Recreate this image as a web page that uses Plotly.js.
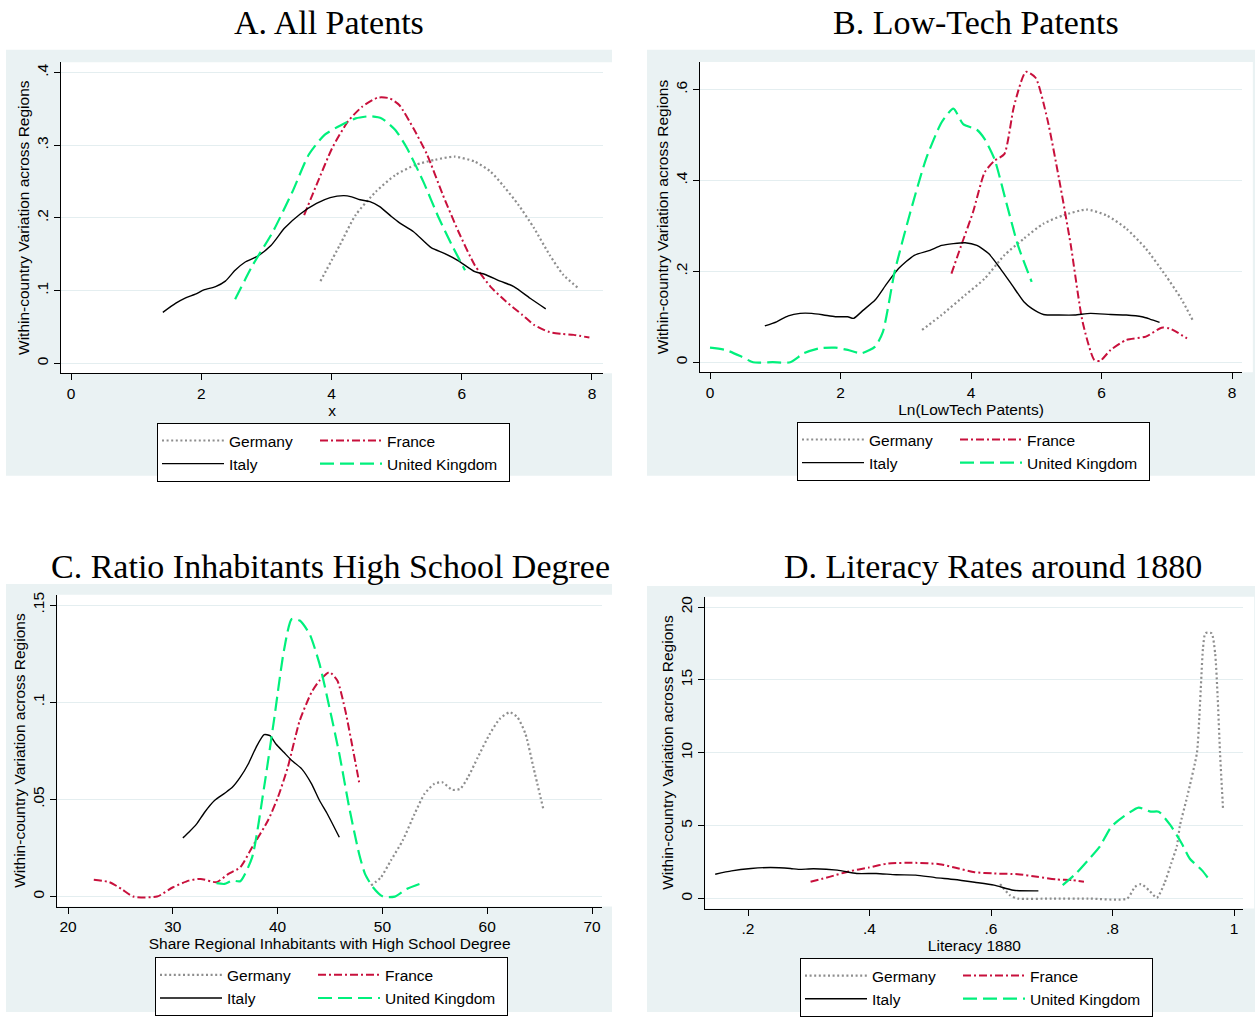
<!DOCTYPE html>
<html><head><meta charset="utf-8">
<script src="https://cdn.plot.ly/plotly-3.0.1.min.js"></script>
<style>html,body{margin:0;padding:0;background:#fff}</style>
</head><body><div id="chart" style="width:1255px;height:1017px"></div>
<script>
// ---------- Panel A: All Patents ----------
const A_germany_x = [3.83,4.13,4.37,4.68,4.98,5.29,5.59,5.89,6.20,6.44,6.65,6.87,7.11,7.35,7.56,7.78];
const A_germany_y = [0.113,0.163,0.204,0.236,0.259,0.273,0.280,0.2844,0.2775,0.264,0.243,0.218,0.186,0.149,0.1216,0.104];
const A_france_x = [3.58,3.77,4.01,4.25,4.47,4.71,4.89,5.04,5.26,5.47,5.71,5.95,6.20,6.44,6.68,6.93,7.11,7.35,7.53,7.72,7.96];
const A_france_y = [0.204,0.2455,0.296,0.3326,0.353,0.3656,0.3647,0.3555,0.323,0.2867,0.2317,0.181,0.135,0.1055,0.0849,0.0665,0.0528,0.0427,0.0404,0.039,0.0353];
const A_italy_x = [1.41,1.61,1.76,1.91,2.04,2.22,2.37,2.52,2.67,2.86,3.07,3.28,3.52,3.77,3.98,4.19,4.31,4.44,4.59,4.74,4.92,5.04,5.26,5.53,5.74,5.95,6.20,6.35,6.59,6.80,7.05,7.29];
const A_italy_y = [0.070,0.0826,0.090,0.095,0.101,0.1055,0.113,0.128,0.139,0.147,0.162,0.186,0.2055,0.220,0.228,0.2307,0.229,0.225,0.2225,0.2156,0.202,0.1936,0.181,0.159,0.151,0.141,0.126,0.1225,0.113,0.1055,0.0894,0.0748];
const A_uk_x = [2.52,2.79,3.10,3.40,3.65,3.89,4.13,4.37,4.59,4.77,4.98,5.16,5.41,5.65,5.86,6.05];
const A_uk_y = [0.088,0.135,0.181,0.236,0.287,0.314,0.327,0.337,0.340,0.337,0.321,0.296,0.250,0.1995,0.1606,0.128];
const A_xticks = [0,2,4,6,8];
const A_xtext = ['0','2','4','6','8'];
const A_yticks = [0,0.1,0.2,0.3,0.4];
const A_ytext = ['0','.1','.2','.3','.4'];

// ---------- Panel B: Low-Tech Patents ----------
const B_germany_x = [3.25,3.55,3.91,4.21,4.51,4.81,5.11,5.41,5.77,6.08,6.38,6.68,6.98,7.22,7.41];
const B_germany_y = [0.071,0.104,0.1476,0.184,0.2353,0.272,0.305,0.323,0.336,0.323,0.294,0.250,0.1915,0.140,0.089];
const B_france_x = [3.70,3.85,4.03,4.21,4.36,4.51,4.66,4.84,4.99,5.17,5.35,5.53,5.71,5.89,5.98,6.14,6.38,6.68,6.92,7.04,7.31];
const B_france_y = [0.195,0.257,0.330,0.418,0.4436,0.458,0.564,0.639,0.626,0.535,0.403,0.257,0.089,0.005,0.003,0.027,0.049,0.0563,0.076,0.0745,0.0526];
const B_italy_x = [0.84,1.02,1.20,1.38,1.56,1.74,1.92,2.11,2.20,2.35,2.53,2.71,2.89,3.13,3.37,3.55,3.73,3.91,4.09,4.27,4.45,4.63,4.81,4.93,5.11,5.35,5.59,5.83,6.14,6.38,6.62,6.74,6.89];
const B_italy_y = [0.080,0.089,0.102,0.1074,0.1074,0.104,0.100,0.100,0.0965,0.1147,0.1367,0.173,0.206,0.2353,0.2463,0.257,0.261,0.263,0.257,0.239,0.206,0.1696,0.133,0.1184,0.105,0.1038,0.1038,0.1074,0.105,0.1038,0.100,0.095,0.0877];
const B_uk_x = [0.00,0.24,0.48,0.66,0.96,1.23,1.44,1.68,1.92,2.11,2.32,2.53,2.65,2.83,3.07,3.31,3.55,3.73,3.88,4.09,4.21,4.36,4.54,4.72,4.93];
const B_uk_y = [0.032,0.027,0.0124,0.0,0.0,0.0,0.0197,0.0307,0.032,0.027,0.0197,0.0343,0.067,0.199,0.330,0.447,0.528,0.558,0.524,0.5116,0.491,0.447,0.352,0.257,0.1769];
const B_xticks = [0,2,4,6,8];
const B_xtext = ['0','2','4','6','8'];
const B_yticks = [0,0.2,0.4,0.6];
const B_ytext = ['0','.2','.4','.6'];

// ---------- Panel C: Ratio Inhabitants High School Degree ----------
const C_germany_x = [48.91,49.86,50.80,51.93,53.07,54.01,54.96,55.71,56.66,57.41,58.17,59.11,60.25,61.19,62.14,62.89,63.65,64.41,65.35];
const C_germany_y = [0.0057,0.0099,0.0185,0.0288,0.0425,0.0528,0.058,0.0588,0.0549,0.0554,0.0614,0.0717,0.0837,0.0914,0.0948,0.0922,0.0837,0.0665,0.0451];
const C_france_x = [22.46,23.97,25.10,26.24,28.50,30.02,31.53,32.66,34.17,35.31,36.44,37.57,39.08,40.03,40.97,42.11,43.24,44.00,44.94,45.70,46.46,47.21,47.78];
const C_france_y = [0.0087,0.0074,0.0039,0.0,0.0,0.0048,0.0082,0.0091,0.0074,0.0117,0.0151,0.0254,0.0391,0.0511,0.0665,0.0905,0.1051,0.1111,0.1154,0.1111,0.0957,0.0751,0.0588];
const C_italy_x = [30.96,31.53,32.28,33.04,33.98,34.93,35.68,36.44,37.20,37.95,38.71,39.27,39.84,40.60,41.35,42.30,43.24,44.00,44.75,45.89];
const C_italy_y = [0.0302,0.0331,0.0374,0.0434,0.0494,0.0531,0.0562,0.0614,0.0682,0.0768,0.0833,0.0828,0.0785,0.0742,0.070,0.0657,0.058,0.0494,0.0425,0.0305];
const C_uk_x = [34.17,34.93,35.68,36.44,37.57,38.71,39.65,40.60,41.35,42.11,43.05,44.00,44.94,45.89,46.83,47.78,48.34,49.10,50.05,51.18,52.31,54.01];
const C_uk_y = [0.0069,0.0065,0.0082,0.0079,0.0202,0.0562,0.0905,0.1265,0.1428,0.142,0.1351,0.1197,0.0974,0.0734,0.0459,0.0219,0.0117,0.0048,0.0,0.0,0.0039,0.0074];
const C_xticks = [20,30,40,50,60,70];
const C_xtext = ['20','30','40','50','60','70'];
const C_yticks = [0,0.05,0.1,0.15];
const C_ytext = ['0','.05','.1','.15'];

// ---------- Panel D: Literacy Rates around 1880 ----------
const D_germany_x = [0.615,0.631,0.644,0.700,0.760,0.824,0.837,0.847,0.860,0.873,0.886,0.897,0.906,0.911,0.923,0.939,0.943,0.946,0.949,0.953,0.963,0.969,0.973,0.977,0.982];
const D_germany_y = [0.99,0.23,0,0,0,0,0.80,0.99,0.57,0.05,1.1,2.46,3.6,5.0,7.0,10.0,12.5,15.0,17.2,18.2,18.2,16.8,13.9,10.0,6.1];
const D_france_x = [0.303,0.334,0.366,0.399,0.431,0.476,0.515,0.540,0.573,0.605,0.644,0.676,0.708,0.734,0.753];
const D_france_y = [1.15,1.49,1.86,2.13,2.41,2.45,2.36,2.13,1.81,1.72,1.67,1.49,1.31,1.26,1.15];
const D_italy_x = [0.146,0.173,0.205,0.237,0.270,0.283,0.308,0.347,0.379,0.411,0.444,0.476,0.508,0.540,0.573,0.605,0.637,0.678];
const D_italy_y = [1.67,1.90,2.06,2.13,2.06,2.00,2.04,1.95,1.72,1.72,1.63,1.61,1.44,1.31,1.12,0.92,0.57,0.53];
const D_uk_x = [0.718,0.740,0.760,0.779,0.798,0.818,0.843,0.863,0.876,0.895,0.914,0.927,0.947,0.960];
const D_uk_y = [0.92,1.72,2.64,3.56,4.93,5.62,6.24,5.96,5.96,5.05,3.78,2.75,1.95,1.26];
const D_xticks = [0.2,0.4,0.6,0.8,1];
const D_xtext = ['.2','.4','.6','.8','1'];
const D_yticks = [0,5,10,15,20];
const D_ytext = ['0','5','10','15','20'];

const panelTitles = ['A. All Patents','B. Low-Tech Patents','C. Ratio Inhabitants High School Degree','D. Literacy Rates around 1880'];
const xTitles = ['x','Ln(LowTech Patents)','Share Regional Inhabitants with High School Degree','Literacy 1880'];
const yTitle = 'Within-country Variation across Regions';
const countries = ['Germany','France','Italy','United Kingdom'];

// ---------- styling / layout ----------
const W = 1255, H = 1017;
const px = v => v / W, py = v => 1 - v / H;
const SANS = 'Liberation Sans, Arial, Helvetica, sans-serif';
const SERIF = 'Liberation Serif, Times New Roman, serif';
const FS = 15.5;
const BG = 'rgb(234,242,243)';
const STY = {
  'Germany': {color:'#8e8e8e', width:2.2, dash:'2px,2.6px'},
  'France': {color:'#c8103c', width:2, dash:'8px,3px,2px,3px'},
  'Italy': {color:'#000000', width:1.4, dash:'solid'},
  'United Kingdom': {color:'#00f07c', width:2.2, dash:'14px,6px'}
};

const panels = [
  {data:[[A_germany_x,A_germany_y],[A_france_x,A_france_y],[A_italy_x,A_italy_y],[A_uk_x,A_uk_y]],
   xt:[A_xticks,A_xtext], yt:[A_yticks,A_ytext], xr:[-0.1536,8.169], yr:[-0.0137,0.41425],
   dom:[61,603,62.6,375], bg:[6,612,50,478], leg:[157,425], title:[329,23]},
  {data:[[B_germany_x,B_germany_y],[B_france_x,B_france_y],[B_italy_x,B_italy_y],[B_uk_x,B_uk_y]],
   xt:[B_xticks,B_xtext], yt:[B_yticks,B_ytext], xr:[-0.1533,8.1533], yr:[-0.0219,0.6607],
   dom:[700,1242,62.3,374], bg:[647,1255,50,478], leg:[797,424], title:[976,23]},
  {data:[[C_germany_x,C_germany_y],[C_france_x,C_france_y],[C_italy_x,C_italy_y],[C_uk_x,C_uk_y]],
   xt:[C_xticks,C_xtext], yt:[C_yticks,C_ytext], xr:[18.979,70.954], yr:[-0.00512,0.15532],
   dom:[57.3,602,597.6,911], bg:[6,612,587,1017], leg:[155,962], title:[330,569]},
  {data:[[D_germany_x,D_germany_y],[D_france_x,D_france_y],[D_italy_x,D_italy_y],[D_uk_x,D_uk_y]],
   xt:[D_xticks,D_xtext], yt:[D_yticks,D_ytext], xr:[0.12971,1.01547], yr:[-0.6826,20.71],
   dom:[705.3,1243.4,599.6,913], bg:[647,1255,589,1017], leg:[800,963], title:[993,569]}
];

const traces = [];
const layout = {
  width: W, height: H, margin:{l:0,r:0,t:0,b:0},
  paper_bgcolor:'#ffffff', plot_bgcolor:'rgba(0,0,0,0)',
  font:{family:SANS, size:FS, color:'#000'},
  showlegend:true, shapes:[], annotations:[]
};

panels.forEach((p, i) => {
  const n = i === 0 ? '' : String(i + 1);
  const legId = 'legend' + n;
  p.data.forEach((d, k) => {
    const name = countries[k];
    const s = STY[name];
    const col1 = (k % 2 === 0);
    traces.push({
      type:'scatter', mode:'lines', x:d[0], y:d[1], name:name,
      xaxis:'x' + n, yaxis:'y' + n, legend:legId,
      legendgroup: 'p' + i + (col1 ? 'c1' : 'c2'),
      legendwidth: col1 ? 81 : 117,
      line:{color:s.color, width:s.width, dash:s.dash, shape:'spline', smoothing:0.6},
      hoverinfo:'skip'
    });
  });
  layout['xaxis' + n] = {
    domain:[px(p.dom[0]), px(p.dom[1])], range:p.xr, anchor:'y' + n,
    tickmode:'array', tickvals:p.xt[0], ticktext:p.xt[1],
    showgrid:false, zeroline:false, showline:true, linecolor:'#000', linewidth:1,
    ticks:'outside', ticklen:6, tickcolor:'#000', tickwidth:1, automargin:false,
    tickfont:{family:SANS, size:FS, color:'#000'},
    title:{text:xTitles[i], font:{family:SANS, size:FS, color:'#000'}, standoff:0},
    fixedrange:true
  };
  layout['yaxis' + n] = {
    domain:[py(p.dom[3]), py(p.dom[2])], range:p.yr, anchor:'x' + n,
    tickmode:'array', tickvals:p.yt[0], ticktext:p.yt[1], tickangle:-90,
    showgrid:true, gridcolor:'rgb(228,238,240)', gridwidth:1,
    zeroline:false, showline:true, linecolor:'#000', linewidth:1,
    ticks:'outside', ticklen:6, tickcolor:'#000', tickwidth:1, automargin:false,
    tickfont:{family:SANS, size:FS, color:'#000'},
    title:{text:yTitle, font:{family:SANS, size:FS, color:'#000'}, standoff:0},
    fixedrange:true
  };
  layout.shapes.push({type:'rect', xref:'paper', yref:'paper', layer:'below',
    x0:px(p.bg[0]), x1:px(p.bg[1]), y0:py(p.bg[3]), y1:py(p.bg[2]),
    fillcolor:BG, line:{width:0}});
  layout.shapes.push({type:'rect', xref:'x' + n + ' domain', yref:'y' + n + ' domain', layer:'below',
    x0:0, x1:1.02, y0:0, y1:1, fillcolor:'#ffffff', line:{width:0}});
  layout[legId] = {
    x:px(p.leg[0]), y:py(p.leg[1]), xanchor:'left', yanchor:'top',
    orientation:'h', traceorder:'grouped', tracegroupgap:0,
    bgcolor:'#ffffff', bordercolor:'#000', borderwidth:1,
    font:{family:SANS, size:FS, color:'#000'},
    itemwidth:62, itemclick:false, itemdoubleclick:false
  };
  layout.annotations.push({
    xref:'paper', yref:'paper', x:px(p.title[0]), y:py(p.title[1]),
    xanchor:'center', yanchor:'middle', showarrow:false, text:panelTitles[i],
    font:{family:SERIF, size:34, color:'#000'}
  });
});

Plotly.newPlot('chart', traces, layout, {displayModeBar:false, staticPlot:true});
</script></body></html>
